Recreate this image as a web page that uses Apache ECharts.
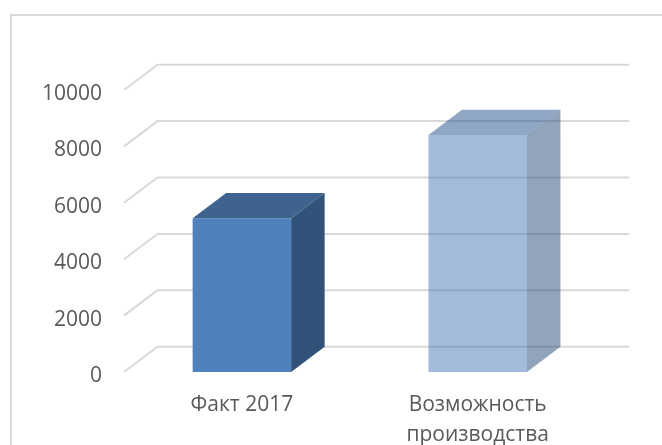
<!DOCTYPE html>
<html>
<head>
<meta charset="utf-8">
<script src="https://cdn.jsdelivr.net/npm/echarts@6/dist/echarts.min.js"></script>
<style>
  html, body { margin: 0; padding: 0; background: #fff; }
  #chart { width: 662px; height: 445px; }
</style>
</head>
<body>
<div id="chart"></div>
<script>
const categories = ['Факт 2017', 'Возможность\nпроизводства'];
const barValues = [5450, 8405];
const tickValues = [0, 2000, 4000, 6000, 8000, 10000];

// сдвиг задней стенки псевдо-3D
const DEPTH_X = 33.5;
const DEPTH_Y = -25.3;
const BAR_WIDTH = 98.5;

const barStyles = [
  { front: '#4f81bd', top: '#3e638f', side: '#325379', opacity: 1 },
  { front: '#4777b7', top: '#214d8b', side: '#254979', opacity: 0.5 },
];

const chart = echarts.init(document.getElementById('chart'));

function renderGridLine(params, api) {
  const start = api.coord([0, api.value(0)]);
  const coordSys = params.coordSys;
  const left = coordSys.x;
  const right = coordSys.x + coordSys.width;
  return {
    type: 'polyline',
    silent: true,
    shape: {
      points: [
        [left, start[1]],
        [left + DEPTH_X, start[1] + DEPTH_Y],
        [right + DEPTH_X, start[1] + DEPTH_Y],
      ],
    },
    style: { stroke: '#d9d9d9', lineWidth: 2, fill: null },
  };
}

function renderBar(params, api) {
  const top = api.coord([api.value(0), api.value(1)]);
  const bottom = api.coord([api.value(0), 0]);
  const x0 = top[0] - BAR_WIDTH / 2;
  const x1 = top[0] + BAR_WIDTH / 2;
  const s = barStyles[params.dataIndex];
  return {
    type: 'group',
    children: [
      {
        type: 'polygon',
        shape: {
          points: [[x0, bottom[1]], [x1, bottom[1]], [x1, top[1]], [x0, top[1]]],
        },
        style: { fill: s.front, opacity: s.opacity },
      },
      {
        type: 'polygon',
        shape: {
          points: [
            [x0, top[1]],
            [x0 + DEPTH_X, top[1] + DEPTH_Y],
            [x1 + DEPTH_X, top[1] + DEPTH_Y],
            [x1, top[1]],
          ],
        },
        style: { fill: s.top, opacity: s.opacity },
      },
      {
        type: 'polygon',
        shape: {
          points: [
            [x1, bottom[1]],
            [x1 + DEPTH_X, bottom[1] + DEPTH_Y],
            [x1 + DEPTH_X, top[1] + DEPTH_Y],
            [x1, top[1]],
          ],
        },
        style: { fill: s.side, opacity: s.opacity },
      },
    ],
  };
}

chart.setOption({
  animation: false,
  backgroundColor: '#fff',
  graphic: [
    {
      type: 'polyline',
      silent: true,
      shape: { points: [[11, 445], [11, 15], [662, 15]] },
      style: { fill: null, stroke: '#d9d9d9', lineWidth: 2 },
    },
  ],
  grid: {
    left: 124,
    top: 90,
    width: 471.6,
    height: 282,
    outerBoundsMode: 'none',
  },
  xAxis: {
    type: 'category',
    data: categories,
    axisLine: { show: false },
    axisTick: { show: false },
    axisLabel: {
      color: '#595959',
      fontFamily: 'Open Sans',
      fontSize: 21,
      lineHeight: 30,
      margin: 18,
      interval: 0,
    },
  },
  yAxis: {
    type: 'value',
    min: 0,
    max: 10000,
    interval: 2000,
    splitLine: { show: false },
    axisLine: { show: false },
    axisTick: { show: false },
    axisLabel: {
      color: '#595959',
      fontFamily: 'Open Sans',
      fontSize: 21,
      margin: 22,
      verticalAlign: 'top',
      lineHeight: 8,
      formatter: (v) => String(v),
    },
  },
  series: [
    {
      type: 'custom',
      renderItem: renderGridLine,
      data: tickValues.map((v) => [v]),
      encode: { y: 0 },
      silent: true,
      z: 1,
    },
    {
      type: 'custom',
      renderItem: renderBar,
      data: barValues.map((v, i) => [i, v]),
      encode: { x: 0, y: 1 },
      z: 2,
    },
  ],
});
</script>
</body>
</html>
